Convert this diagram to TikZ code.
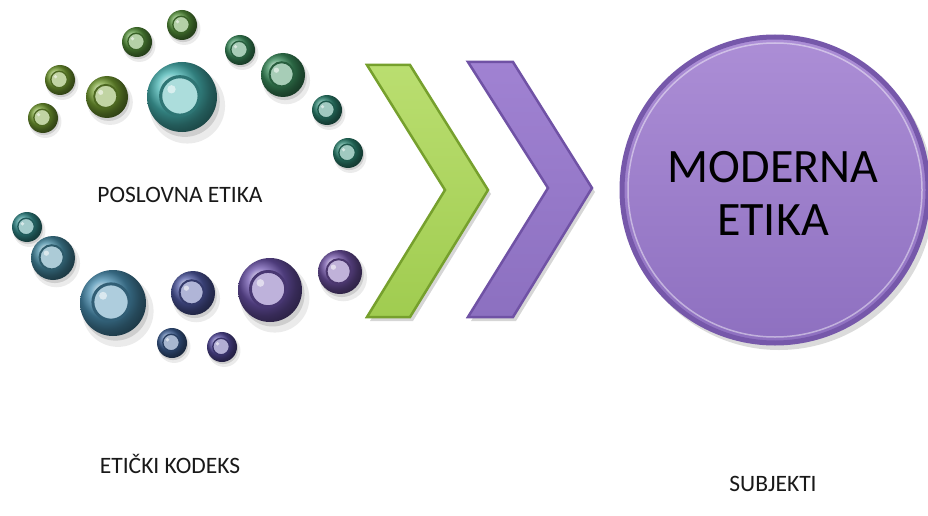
\documentclass[tikz,border=0pt]{standalone}
\usepackage{fontspec}
\setmainfont{Carlito}
\usetikzlibrary{shadings}
\definecolor{gA}{RGB}{118,160,50}
\definecolor{gB}{RGB}{88,150,60}
\definecolor{tA}{RGB}{60,145,95}
\definecolor{tB}{RGB}{45,135,115}
\definecolor{tC}{RGB}{50,140,140}
\definecolor{tBig}{RGB}{70,180,178}
\definecolor{bA}{RGB}{70,140,165}
\definecolor{bB}{RGB}{75,145,180}
\definecolor{bC}{RGB}{60,95,150}
\definecolor{pA}{RGB}{80,90,165}
\definecolor{pB}{RGB}{85,75,160}
\definecolor{pC}{RGB}{110,85,175}
\definecolor{pD}{RGB}{115,85,170}
\definecolor{chgT}{RGB}{186,222,112}
\definecolor{chgB}{RGB}{160,204,80}
\definecolor{chgD}{RGB}{118,160,45}
\definecolor{chpT}{RGB}{160,130,210}
\definecolor{chpB}{RGB}{140,112,192}
\definecolor{chpD}{RGB}{112,82,165}
\definecolor{ciT}{RGB}{172,142,214}
\definecolor{ciB}{RGB}{142,112,192}
\definecolor{ciD}{RGB}{118,88,170}
\definecolor{txt}{RGB}{25,25,25}
\tikzset{
  lbl/.style={font=\fontsize{23.5}{28}\selectfont, text=txt, inner sep=0pt, anchor=base},
  big/.style={font=\fontsize{48}{53}\selectfont, text=black, inner sep=0pt, anchor=base},
  chevG/.style={top color=chgT, bottom color=chgB, draw=chgD, line width=2.5pt, line join=miter},
  chevP/.style={top color=chpT, bottom color=chpB, draw=chpD, line width=2.5pt, line join=miter},
  shadowfill/.style={fill=black, opacity=0.16},
}
\begin{document}
\begin{tikzpicture}[x=1pt,y=-1pt]
\useasboundingbox[fill=white] (0,0) rectangle (928,516);

% bubbles
\foreach \n/\x/\y/\r/\c in {
  1/43/118/15/gA, 2/60/80/15/gA, 3/107/97/21/gA, 4/137/42/15/gB, 5/182/25/15/gB,
  6/182/97/35/tBig, 7/240/50/15/tA, 8/283/75/22/tA, 9/327/110/15/tB, 10/348/153/15/tB,
  11/27/227/15/tC, 12/53/258/22/bA, 13/113/303/33/bB, 14/172/343/15/bC, 15/193/293/22/pA,
  16/222/347/15/pB, 17/270/290/32/pC, 18/340/272/22/pD} {
  \fill[black,opacity=0.08] (\x+0.15*\r,\y+0.25*\r) circle ({1.08*\r pt});
  \fill[black,opacity=0.12] (\x+0.08*\r,\y+0.14*\r) circle ({1.0*\r pt});
  \node[circle, inner sep=0pt, minimum size={2*\r pt}, shading=ball, ball color=\c] (b\n) at (\x,\y) {};
  \node[circle, inner sep=0pt, minimum size={1.1*\r pt}, fill=\c!45!white, draw=\c!65!black, line width={0.09*\r pt}] (i\n) at (\x-0.06*\r,\y-0.03*\r) {};
  \fill[white,opacity=0.55] (\x-0.3*\r,\y-0.22*\r) circle ({0.12*\r pt});
}

% chevrons
\fill[shadowfill] (370,69) -- (413,69) -- (491,194) -- (413,321) -- (370,321) -- (448,194) -- cycle;
\draw[chevG] (367,65) -- (410,65) -- (488,190) -- (410,317) -- (367,317) -- (445,190) -- cycle;
\fill[shadowfill] (471,66) -- (516,66) -- (595,192) -- (516,321) -- (471,321) -- (551,192) -- cycle;
\draw[chevP] (468,62) -- (513,62) -- (592,188) -- (513,317) -- (468,317) -- (548,188) -- cycle;

% big circle
\fill[black,opacity=0.14] (779,195) circle (155pt);
\node[circle, inner sep=0pt, minimum size=306pt, top color=ciT, bottom color=ciB, draw=ciD, line width=5pt] (mc) at (775,190) {};
\draw[white, opacity=0.45, line width=1.5pt] (mc.center) circle (147pt);
\node[big] (m1) at (773,182) {MODERNA};
\node[big] (m2) at (773,235) {ETIKA};

% labels
\node[lbl] (pe) at (180,202) {POSLOVNA ETIKA};
\node[lbl] (ek) at (170,473) {ETIČKI KODEKS};
\node[lbl] (su) at (773,491) {SUBJEKTI};
\end{tikzpicture}
\end{document}
